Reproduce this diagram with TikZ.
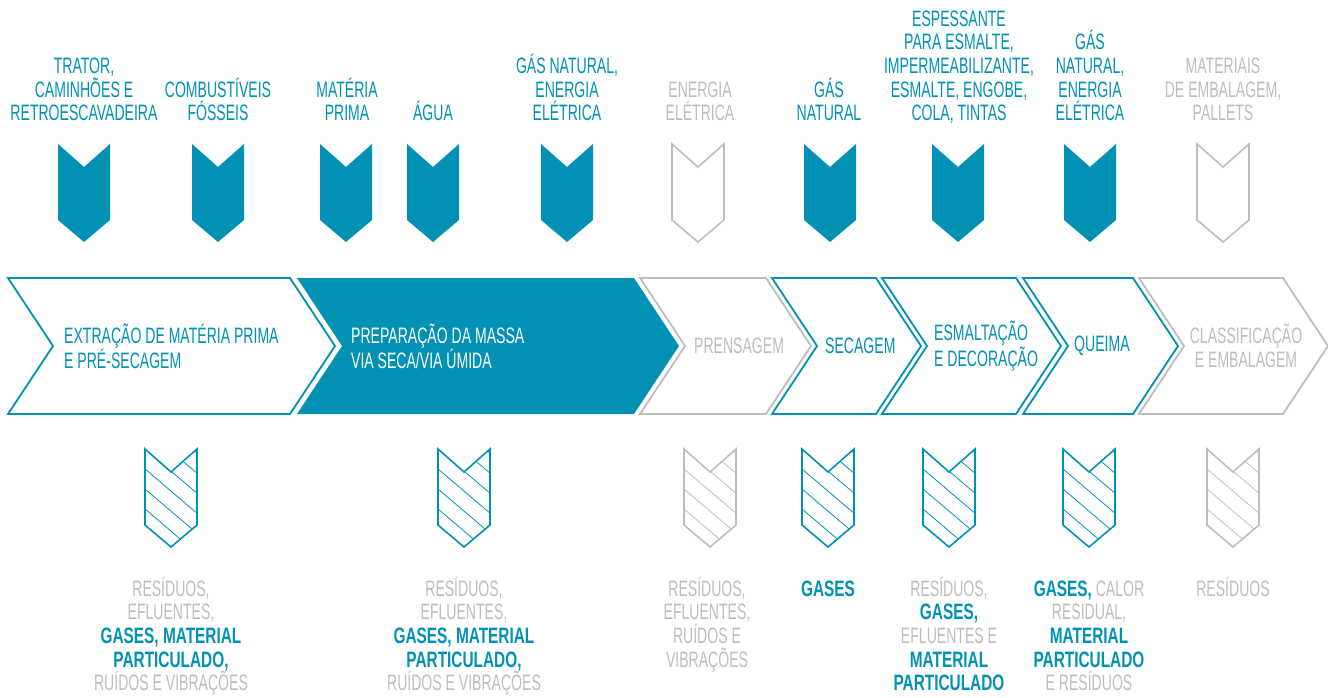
\documentclass[tikz,border=0pt]{standalone}
\usepackage{fontspec}
\setmainfont{Liberation Sans}[FakeStretch=0.63, BoldFeatures={FakeStretch=0.69}]
\definecolor{cblue}{RGB}{0,145,181}
\definecolor{cgray}{RGB}{188,189,193}
\newcommand{\bodyfont}{\fontsize{22.3}{23.7}\selectfont}
\newcommand{\hl}[1]{\textbf{\color{cblue}#1}}
\newcommand{\tagpath}[2]{(#1-26,#2) -- (#1,#2+23) -- (#1+26,#2) -- (#1+26,#2+76) -- (#1,#2+98) -- (#1-26,#2+76) -- cycle}
\newcommand{\steppath}[2]{(#1,278) -- (#2,278) -- (#2+45,346) -- (#2,414) -- (#1,414) -- (#1+45,346) -- cycle}
\tikzset{
  tagfull/.style={fill=cblue},
  tagempty/.style={draw=cgray, line width=1.6pt},
  stepline/.style={draw=cblue, fill=white, line width=1.8pt},
  stepgray/.style={draw=cgray, fill=white, line width=1.8pt},
  stepfull/.style={fill=cblue},
  toptext/.style={anchor=base, align=center, inner sep=0pt, font=\bodyfont, text=cblue},
  steptext/.style={anchor=west, align=left, inner sep=0pt, font=\bodyfont},
  outtext/.style={anchor=base, align=center, inner sep=0pt, font=\bodyfont, text=cgray}
}
\begin{document}
\begin{tikzpicture}[x=1pt, y=-1pt, line join=miter]
\useasboundingbox (0,0) rectangle (1328,698);

\node[toptext] (t1) at (84,121) {TRATOR,\\CAMINHÕES E\\RETROESCAVADEIRA};
\node[toptext] (t2) at (218,121) {COMBUSTÍVEIS\\FÓSSEIS};
\node[toptext] (t3) at (347,121) {MATÉRIA\\PRIMA};
\node[toptext] (t4) at (433,121) {ÁGUA};
\node[toptext] (t5) at (567,121) {GÁS NATURAL,\\ENERGIA\\ELÉTRICA};
\node[toptext, text=cgray] (t6) at (700,121) {ENERGIA\\ELÉTRICA};
\node[toptext] (t7) at (829,121) {GÁS\\NATURAL};
\node[toptext] (t8) at (959,121) {ESPESSANTE\\PARA ESMALTE,\\IMPERMEABILIZANTE,\\ESMALTE, ENGOBE,\\COLA, TINTAS};
\node[toptext] (t9) at (1090,121) {GÁS\\NATURAL,\\ENERGIA\\ELÉTRICA};
\node[toptext, text=cgray] (t10) at (1223,121) {MATERIAIS\\DE EMBALAGEM,\\PALLETS};

\foreach \x/\s in {84/tagfull,218/tagfull,346/tagfull,433/tagfull,567/tagfull,698/tagempty,830/tagfull,958/tagfull,1090/tagfull,1223/tagempty}
  \path[\s] \tagpath{\x}{144};

\foreach \l/\r/\s in {8/290/stepline,297/634/stepfull,640/766/stepgray,772/876/stepline,882/1016/stepline,1023/1133/stepline,1139/1283/stepgray}
  \path[\s] \steppath{\l}{\r};

\node[steptext, text=cblue] (s1) at (64,346) {EXTRAÇÃO DE MATÉRIA PRIMA\\E PRÉ-SECAGEM};
\node[steptext, text=white] (s2) at (351,346) {PREPARAÇÃO DA MASSA\\VIA SECA/VIA ÚMIDA};
\node[steptext, text=cgray] (s3) at (694,346) {PRENSAGEM};
\node[steptext, text=cblue] (s4) at (825,346) {SECAGEM};
\node[steptext, text=cblue] (s5) at (934,346) {ESMALTAÇÃO\\E DECORAÇÃO};
\node[steptext, text=cblue] (s6) at (1074,346) {QUEIMA};
\node[steptext, text=cgray, anchor=center, align=center] (s7) at (1246,346) {CLASSIFICAÇÃO\\E EMBALAGEM};

\foreach \x/\c in {171/cblue,464/cblue,710/cgray,828/cblue,949/cblue,1089/cblue,1233/cgray}{
  \begin{scope}
    \clip \tagpath{\x}{449};
    \foreach \k in {-2,...,4}
      \draw[\c, line width=0.8pt] (\x-30,449+20*\k-3.4) -- ++(60,51);
  \end{scope}
  \draw[\c, line width=1.6pt] \tagpath{\x}{449};
}

\node[outtext] (o1) at (171,690.8) {RESÍDUOS,\\EFLUENTES,\\\hl{GASES, MATERIAL}\\\hl{PARTICULADO,}\\RUÍDOS E VIBRAÇÕES};
\node[outtext] (o2) at (464,690.8) {RESÍDUOS,\\EFLUENTES,\\\hl{GASES, MATERIAL}\\\hl{PARTICULADO,}\\RUÍDOS E VIBRAÇÕES};
\node[outtext] (o3) at (707,667.1) {RESÍDUOS,\\EFLUENTES,\\RUÍDOS E\\VIBRAÇÕES};
\node[outtext] (o4) at (828,596) {\hl{GASES}};
\node[outtext] (o5) at (949,690.8) {RESÍDUOS,\\\hl{GASES,}\\EFLUENTES E\\\hl{MATERIAL}\\\hl{PARTICULADO}};
\node[outtext] (o6) at (1089,690.8) {\hl{GASES,} CALOR\\RESIDUAL,\\\hl{MATERIAL}\\\hl{PARTICULADO}\\E RESÍDUOS};
\node[outtext] (o7) at (1233,596) {RESÍDUOS};

\end{tikzpicture}
\end{document}
